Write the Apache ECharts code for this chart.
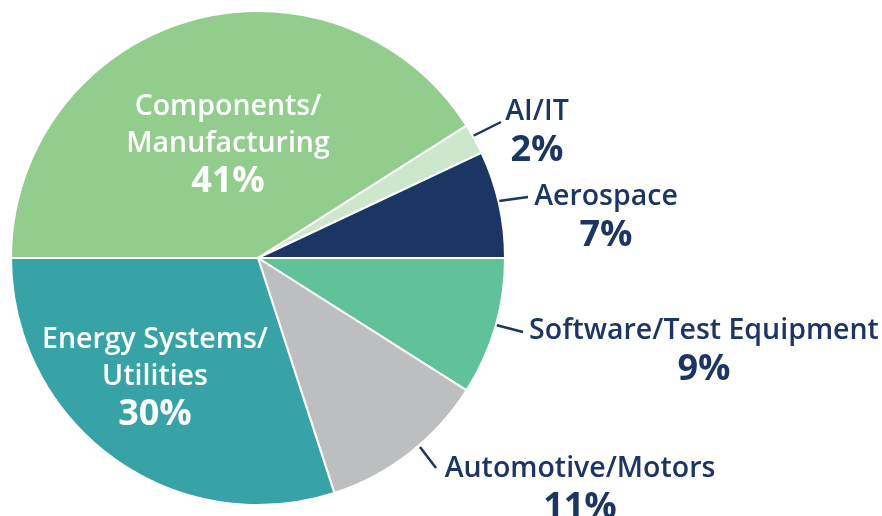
<!DOCTYPE html>
<html><head><meta charset="utf-8">
<script src="https://cdn.jsdelivr.net/npm/echarts@6/dist/echarts.min.js"></script>
<style>html,body{margin:0;padding:0;background:#fff}#c{width:882px;height:516px}</style>
</head><body><div id="c"></div>
<script>
const categories = ['Software/Test Equipment', 'Automotive/Motors', 'Energy Systems/\nUtilities', 'Components/\nManufacturing', 'AI/IT', 'Aerospace'];
const values = [9, 11, 30, 41, 2, 7];
const colors = ['#61c198', '#bdbec0', '#37a3a7', '#92cd8e', '#cce7cb', '#1c3664'];
const inside = [false, false, true, true, false, false];

// label placement (layout only)
const labelPos = [
  {x: 704, y: 351, line: [[496, 325], [523, 332]]},
  {x: 580, y: 489, line: [[420, 447], [436, 468]]},
  {x: 155, y: 378},
  {x: 228, y: 145},
  {x: 537, y: 132, line: [[473, 136], [501, 122]]},
  {x: 606, y: 217, line: [[499, 201], [528, 197]]}
];
const navy = '#1d3561';
const chart = echarts.init(document.getElementById('c'));
chart.setOption({
  animation: false,
  series: [{
    type: 'pie',
    center: [258, 258],
    radius: 247,
    startAngle: 0,
    clockwise: true,
    avoidLabelOverlap: false,
    itemStyle: {borderColor: '#fff', borderWidth: 2},
    data: categories.map((n, i) => ({
      name: n,
      value: values[i],
      itemStyle: {color: colors[i]},
      label: {
        show: true,
        position: inside[i] ? 'inside' : 'outside',
        formatter: '{n|{b}}\n{p|{c}%}',
        align: 'center',
        rich: {
          n: {fontFamily: 'Open Sans', fontWeight: 600, fontSize: 28.5, lineHeight: 37, color: inside[i] ? '#fff' : navy, align: 'center'},
          p: {fontFamily: 'Open Sans', fontWeight: 700, fontSize: 36, lineHeight: 40, color: inside[i] ? '#fff' : navy, align: 'center'}
        }
      },
      labelLine: {show: !inside[i], lineStyle: {color: navy, width: 2.5}}
    })),
    labelLayout: function (p) {
      const lp = labelPos[p.dataIndex];
      const r = {x: lp.x, y: lp.y, align: 'center', verticalAlign: 'middle'};
      if (lp.line) r.labelLinePoints = [lp.line[0], lp.line[1], lp.line[1]];
      return r;
    }
  }]
});
</script></body></html>
